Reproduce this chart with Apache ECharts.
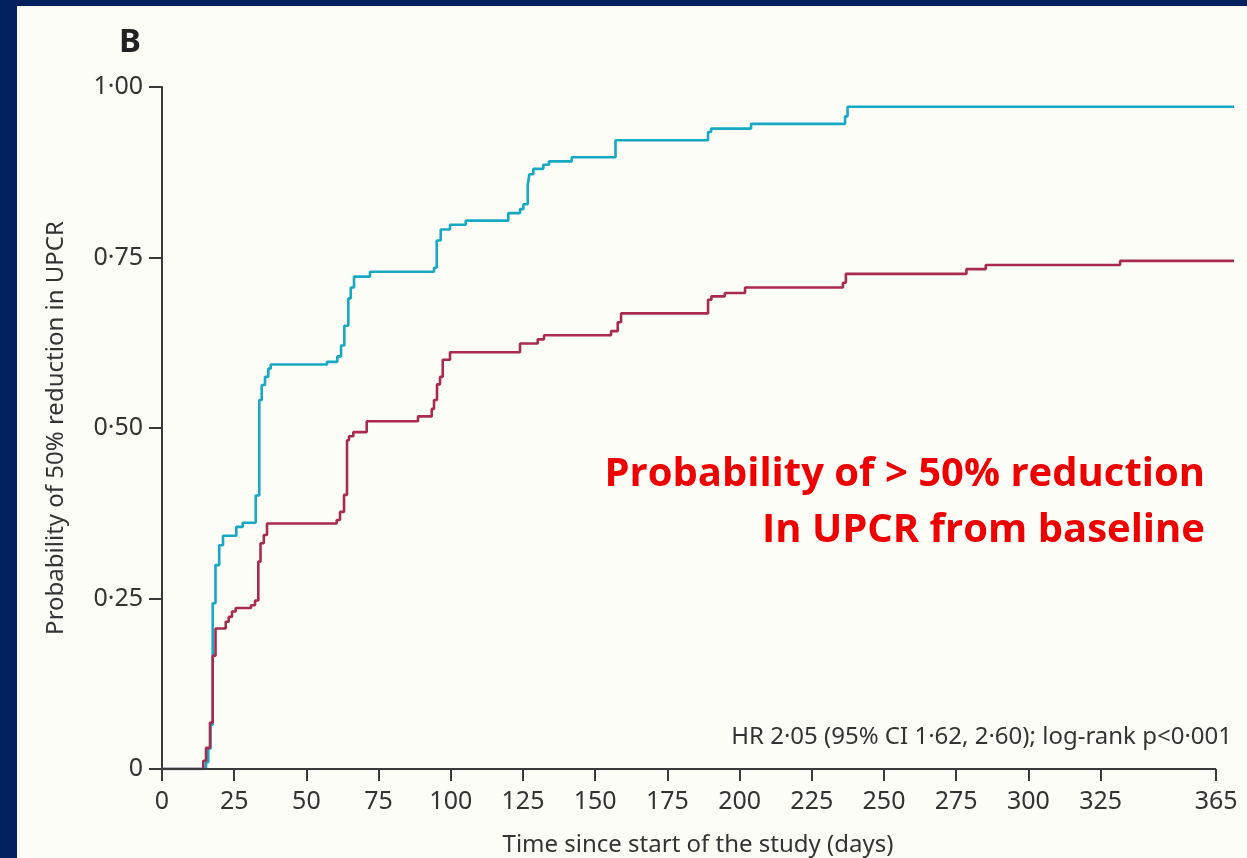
<!DOCTYPE html>
<html>
<head>
<meta charset="utf-8">
<script src="https://cdn.jsdelivr.net/npm/echarts@6/dist/echarts.min.js"></script>
<style>
  html, body { margin: 0; padding: 0; background: #03205f; width: 1247px; height: 858px; overflow: hidden; }
  #paper { position: absolute; left: 17px; top: 6px; width: 1230px; height: 852px; background: #fdfdf7; }
  #chart { position: absolute; left: 0; top: 0; width: 1247px; height: 858px; }
</style>
</head>
<body>
<div id="paper"></div>
<div id="chart"></div>
<script>
// ---- data ----
const xTickValues = [0, 25, 50, 75, 100, 125, 150, 175, 200, 225, 250, 275, 300, 325, 365];
const xAxisEnd = 365;       // last labelled day; the curves run a little past it
const xDataEnd = 371.2;     // follow-up where both curves stop

// Teal group: step times (days) and cumulative probability after each step
const tealTimes = [0, 15.24, 16.03, 16.80, 17.56, 18.53, 19.81, 21.12, 25.73, 27.95, 32.45, 33.69, 34.53, 35.67, 36.81, 37.64,
  57.14, 60.71, 61.99, 63.13, 64.52, 65.35, 66.49, 72.03, 94.19, 95.13, 96.51, 99.73, 105.17, 119.92, 123.97, 125.12,
  126.64, 127.20, 128.58, 132.04, 134.02, 141.88, 157.04, 189.08, 190.12, 203.97, 236.52, 237.39, 371.2];
const tealValues = [0, 0.01, 0.03, 0.065, 0.243, 0.299, 0.328, 0.342, 0.355, 0.361, 0.401, 0.541, 0.563, 0.575, 0.587, 0.593,
  0.597, 0.605, 0.621, 0.650, 0.690, 0.706, 0.722, 0.729, 0.735, 0.775, 0.791, 0.798, 0.804, 0.815, 0.821, 0.828,
  0.856, 0.872, 0.880, 0.886, 0.891, 0.897, 0.922, 0.934, 0.939, 0.946, 0.957, 0.971, 0.971];

// Crimson group
const redTimes = [0, 14.30, 15.24, 16.62, 17.56, 18.53, 22.06, 23.10, 24.24, 25.52, 30.82, 32.21, 33.35, 34.11, 35.25, 36.36,
  60.50, 61.64, 63.03, 64.06, 64.76, 66.25, 70.89, 88.65, 93.40, 94.19, 95.23, 96.27, 97.21, 99.73, 123.97, 130.10,
  132.28, 155.49, 157.81, 158.95, 189.08, 190.22, 194.89, 201.89, 235.79, 236.80, 278.56, 285.24, 331.75, 371.2];
const redValues = [0, 0.012, 0.031, 0.068, 0.166, 0.206, 0.216, 0.223, 0.231, 0.236, 0.240, 0.247, 0.304, 0.331, 0.343, 0.360,
  0.365, 0.377, 0.402, 0.482, 0.488, 0.494, 0.510, 0.517, 0.528, 0.541, 0.564, 0.575, 0.600, 0.611, 0.624, 0.630,
  0.636, 0.642, 0.655, 0.668, 0.688, 0.693, 0.698, 0.706, 0.713, 0.726, 0.733, 0.739, 0.745, 0.745];

const panelLetter = 'B';
const xAxisName = 'Time since start of the study (days)';
const yAxisName = 'Probability of 50% reduction in UPCR';
const statText = 'HR 2·05 (95% CI 1·62, 2·60); log-rank p<0·001';
const noteLines = ['Probability of > 50% reduction', 'In UPCR from baseline'];

// ---- chart ----
const pairs = (xs, ys) => xs.map((x, i) => [x, ys[i]]);
const axisColor = '#3a3a3a';
const textColor = '#333333';
const font = '"Noto Sans", "Open Sans", sans-serif';
const noteFont = '"Open Sans", "Noto Sans", sans-serif';

const chart = echarts.init(document.getElementById('chart'), null, { renderer: 'canvas' });
chart.setOption({
  backgroundColor: 'transparent',
  animation: false,
  grid: { left: 162, right: 13, top: 87, bottom: 89, containLabel: false, outerBoundsMode: 'none' },
  xAxis: {
    type: 'value', min: 0, max: xDataEnd,
    name: xAxisName, nameLocation: 'middle', nameGap: 64,
    nameTextStyle: { fontFamily: font, fontSize: 24, color: textColor },
    axisLine: { show: false },
    axisTick: { show: true, length: 12, lineStyle: { color: axisColor, width: 2 }, customValues: xTickValues },
    axisLabel: { customValues: xTickValues, fontFamily: font, fontSize: 25, color: textColor, margin: 20 },
    splitLine: { show: false }
  },
  yAxis: {
    type: 'value', min: 0, max: 1, interval: 0.25,
    name: yAxisName, nameLocation: 'middle', nameGap: 94, nameRotate: 90,
    nameTextStyle: { fontFamily: font, fontSize: 24, color: textColor },
    axisLine: { show: true, lineStyle: { color: axisColor, width: 2 } },
    axisTick: { show: true, length: 13, lineStyle: { color: axisColor, width: 2 } },
    axisLabel: {
      fontFamily: font, fontSize: 25, color: textColor, margin: 19,
      formatter: v => v === 0 ? '0' : v.toFixed(2).replace('.', '·')
    },
    splitLine: { show: false }
  },
  series: [
    {
      type: 'line', step: 'end', data: pairs(tealTimes, tealValues),
      symbol: 'none', lineStyle: { color: '#17a8c4', width: 2.6 }, z: 3,
      markLine: {
        silent: true, symbol: 'none', label: { show: false }, animation: false,
        lineStyle: { color: axisColor, width: 2, type: 'solid' },
        data: [[{ coord: [0, 0] }, { coord: [xAxisEnd, 0] }]]
      }
    },
    {
      type: 'line', step: 'end', data: pairs(redTimes, redValues),
      symbol: 'none', lineStyle: { color: '#a82a4c', width: 2.6 }, z: 4
    }
  ],
  graphic: [
    { type: 'text', left: 119, top: 26, style: { text: panelLetter, fontFamily: font, fontWeight: 'bold', fontSize: 33, fill: '#222' } },
    { type: 'text', right: 15, top: 725, style: { text: statText, fontFamily: font, fontSize: 24, fill: textColor } },
    { type: 'text', right: 42, top: 455, style: { text: noteLines[0], fontFamily: noteFont, fontWeight: 'bold', fontSize: 40, fill: '#ee0000' } },
    { type: 'text', right: 42, top: 511, style: { text: noteLines[1], fontFamily: noteFont, fontWeight: 'bold', fontSize: 40, fill: '#ee0000' } }
  ]
});
</script>
</body>
</html>
